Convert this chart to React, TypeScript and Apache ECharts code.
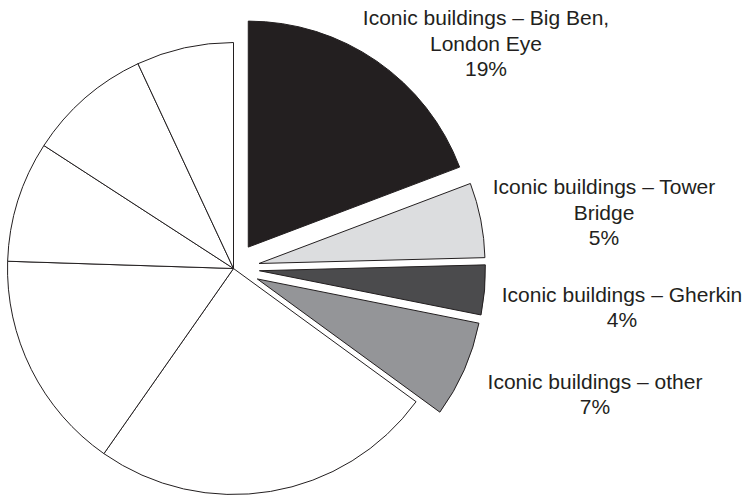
import React, { useEffect, useRef } from "react";
import * as echarts from "echarts";

// Slices, clockwise from 12 o'clock
const categories = [
  "Iconic buildings – Big Ben, London Eye",
  "Iconic buildings – Tower Bridge",
  "Iconic buildings – Gherkin",
  "Iconic buildings – other",
  "Other 1",
  "Other 2",
  "Other 3",
  "Other 4",
  "Other 5",
];
const values = [19.25, 5.35, 3.55, 6.9, 24.7, 15.8, 8.65, 8.9, 6.95];
const labelLines = [
  ["Iconic buildings – Big Ben,", "London Eye"],
  ["Iconic buildings – Tower", "Bridge"],
  ["Iconic buildings – Gherkin"],
  ["Iconic buildings – other"],
  null,
  null,
  null,
  null,
  null,
];
const fills = ["#231f20", "#dcdddf", "#4b4b4d", "#949598", "#ffffff", "#ffffff", "#ffffff", "#ffffff", "#ffffff"];
const exploded = [true, true, true, true, false, false, false, false, false];

export default function App() {
  const ref = useRef<HTMLDivElement>(null);
  useEffect(() => {
    if (!ref.current) return;
    const chart = echarts.init(ref.current, undefined, { renderer: "svg" });
    // label block centres (layout only)
    const labelPos: Record<number, [number, number]> = {
      0: [486, 43],
      1: [604, 212],
      2: [622, 307],
      3: [595, 394],
    };
    const total = values.reduce((a, b) => a + b, 0);
    const texts: any[] = [];
    labelLines.forEach((lines, i) => {
      if (!lines || !labelPos[i]) return;
      const pct = Math.round((values[i] / total) * 100) + "%";
      texts.push({
        type: "text",
        x: labelPos[i][0],
        y: labelPos[i][1],
        silent: true,
        style: {
          text: [...lines, pct].join("\n"),
          fill: "#231f20",
          font: "21px 'Liberation Sans', Arial, sans-serif",
          lineHeight: 25.5,
          align: "center",
          verticalAlign: "middle",
        },
      });
    });
    chart.setOption({
      animation: false,
      backgroundColor: "#ffffff",
      graphic: texts,
      series: [
        {
          type: "pie",
          center: [233.5, 268.5],
          radius: 226,
          startAngle: 90,
          clockwise: true,
          selectedMode: "multiple",
          selectedOffset: 26,
          avoidLabelOverlap: false,
          silent: true,
          emphasis: { disabled: true },
          itemStyle: { borderColor: "#231f20", borderWidth: 1 },
          label: { show: false },
          labelLine: { show: false },
          data: categories.map((name, i) => ({
            name,
            value: values[i],
            selected: exploded[i],
            itemStyle: { color: fills[i] },
          })),
        },
      ],
    });
    return () => chart.dispose();
  }, []);
  return (
    <div
      ref={ref}
      style={{ position: "fixed", left: 0, top: 0, width: 747, height: 497 }}
    />
  );
}
